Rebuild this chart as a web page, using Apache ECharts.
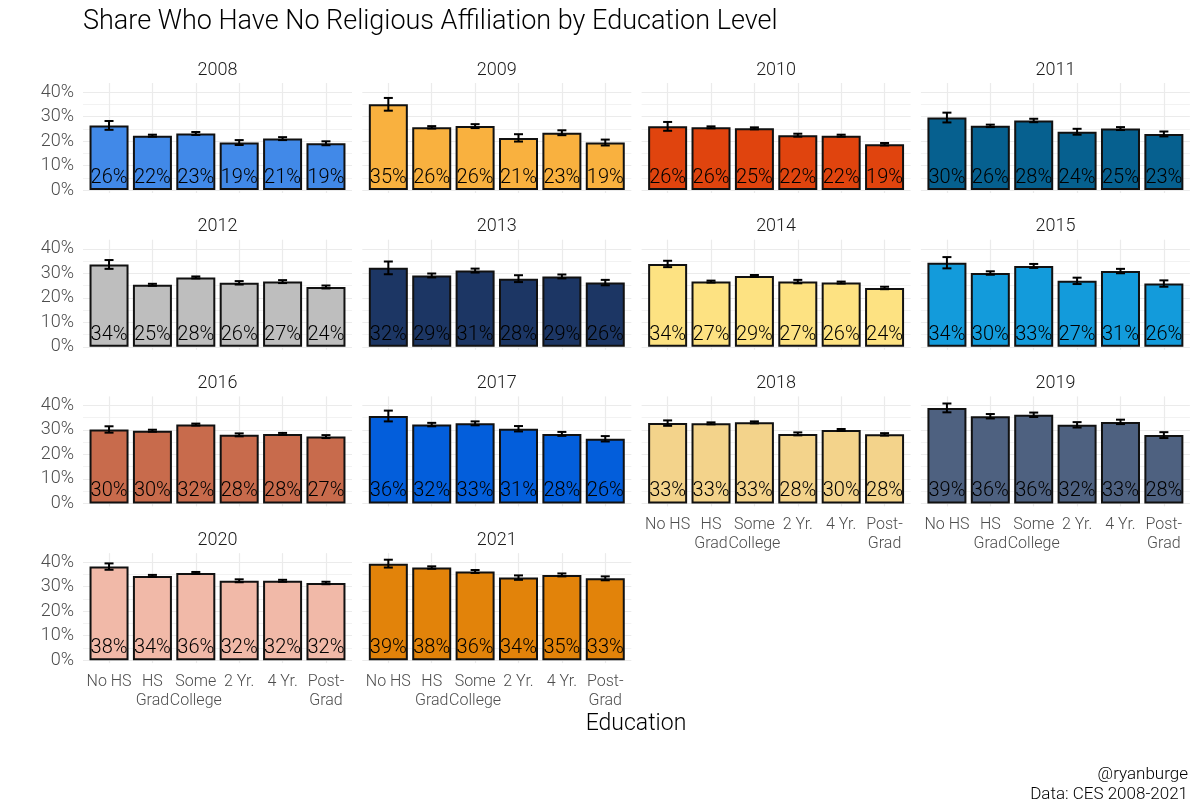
<!DOCTYPE html>
<html>
<head>
<meta charset="utf-8">
<script src="https://cdn.jsdelivr.net/npm/echarts@6/dist/echarts.min.js"></script>
<style>html,body{margin:0;padding:0;background:#fff}#c{width:1200px;height:800px}</style>
</head>
<body>
<div id="c"></div>
<script>
const years = ['2008','2009','2010','2011','2012','2013','2014','2015','2016','2017','2018','2019','2020','2021'];
const categories = ['No HS', 'HS\nGrad', 'Some\nCollege', '2 Yr.', '4 Yr.', 'Post-\nGrad'];
const yTicks = [0, 10, 20, 30, 40];
const yGrid = [0, 5, 10, 15, 20, 25, 30, 35, 40];
const colors = ['#4189E8','#F9B13F','#E0440E','#06608F','#BEBEBE','#1C3664','#FDE282','#139BDB','#C86B4C','#035EDB','#F3D38B','#4E6180','#F1B9A8','#E2830A'];

const v2008 = [26.4, 22.2, 23.1, 19.4, 21.0, 19.1];
const v2009 = [35.0, 25.6, 26.1, 21.3, 23.4, 19.4];
const v2010 = [26.0, 25.6, 25.2, 22.4, 22.2, 18.7];
const v2011 = [29.6, 26.2, 28.4, 23.8, 25.1, 22.9];
const v2012 = [33.6, 25.3, 28.3, 26.1, 26.6, 24.4];
const v2013 = [32.2, 29.1, 31.1, 27.8, 28.7, 26.2];
const v2014 = [33.8, 26.6, 28.9, 26.6, 26.2, 24.0];
const v2015 = [34.3, 30.1, 33.0, 26.9, 30.9, 25.8];
const v2016 = [30.2, 29.7, 32.2, 28.0, 28.4, 27.3];
const v2017 = [35.7, 32.2, 32.7, 30.5, 28.4, 26.4];
const v2018 = [32.8, 32.7, 33.1, 28.4, 30.0, 28.2];
const v2019 = [39.0, 35.6, 36.2, 32.1, 33.3, 27.9];
const v2020 = [38.2, 34.4, 35.6, 32.4, 32.4, 31.5];
const v2021 = [39.4, 37.8, 36.2, 33.7, 34.8, 33.4];

const e2008 = [1.8, 0.4, 0.6, 1.0, 0.6, 0.8];
const e2009 = [2.6, 0.5, 0.8, 1.5, 1.0, 1.2];
const e2010 = [1.8, 0.4, 0.4, 0.6, 0.4, 0.5];
const e2011 = [2.0, 0.5, 0.7, 1.2, 0.6, 1.0];
const e2012 = [1.8, 0.4, 0.4, 0.7, 0.6, 0.6];
const e2013 = [2.6, 0.8, 0.8, 1.4, 0.8, 1.1];
const e2014 = [1.3, 0.4, 0.4, 0.7, 0.4, 0.5];
const e2015 = [2.3, 0.7, 0.8, 1.3, 0.9, 1.3];
const e2016 = [1.3, 0.4, 0.4, 0.6, 0.4, 0.6];
const e2017 = [2.2, 0.7, 0.8, 1.1, 0.8, 1.1];
const e2018 = [1.1, 0.4, 0.4, 0.6, 0.4, 0.5];
const e2019 = [1.8, 0.9, 0.9, 1.1, 0.9, 1.2];
const e2020 = [1.3, 0.4, 0.4, 0.6, 0.4, 0.5];
const e2021 = [1.6, 0.5, 0.6, 0.9, 0.6, 0.8];

const values = [v2008,v2009,v2010,v2011,v2012,v2013,v2014,v2015,v2016,v2017,v2018,v2019,v2020,v2021];
const errors = [e2008,e2009,e2010,e2011,e2012,e2013,e2014,e2015,e2016,e2017,e2018,e2019,e2020,e2021];

const FONT = 'Roboto, "Liberation Sans", sans-serif';
const chart = echarts.init(document.getElementById('c'), null, {renderer: 'canvas'});

const grids = [], xAxes = [], yAxes = [], series = [], graphics = [];
const left0 = 83, colStep = 279.3, pw = 269, top0 = 83, rowStep = 156.7, ph = 110;
years.forEach((yr, i) => {
  const c = i % 4, r = Math.floor(i / 4);
  const left = left0 + c * colStep, top = top0 + r * rowStep;
  grids.push({left: left, top: top, width: pw, height: ph});
  const isBottom = (i + 4) >= years.length;
  xAxes.push({
    type: 'value', gridIndex: i, min: 0.4, max: 6.6,
    axisLine: {show: false},
    axisTick: {show: false, customValues: [1,2,3,4,5,6]},
    axisLabel: {show: isBottom, customValues: [1,2,3,4,5,6], formatter: v => categories[Math.round(v) - 1],
      color: '#4D4D4D', fontSize: 16, fontFamily: FONT, fontWeight: 300, lineHeight: 19, margin: 9},
    splitLine: {show: true, lineStyle: {color: '#EBEBEB', width: 1.2}}
  });
  yAxes.push({
    type: 'value', gridIndex: i, min: -1.2, max: 43.7,
    axisLine: {show: false},
    axisTick: {show: false, customValues: yGrid},
    axisLabel: {show: c === 0, customValues: yTicks, formatter: v => v + '%',
      color: '#4D4D4D', fontSize: 18, fontFamily: FONT, fontWeight: 300, margin: 9},
    splitLine: {show: true, lineStyle: {color: ['#EBEBEB', '#F2F2F2'], width: 1.2}}
  });
  series.push({
    type: 'bar', xAxisIndex: i, yAxisIndex: i, barWidth: 39, z: 2,
    data: values[i].map((v, k) => [k + 1, v]),
    itemStyle: {color: colors[i], borderColor: '#111', borderWidth: 2},
    label: {show: true, position: 'insideBottom', distance: 2,
      formatter: p => Math.round(p.value[1]) + '%',
      color: '#000', fontSize: 20, fontFamily: FONT, fontWeight: 300},
    animation: false
  });
  series.push({
    type: 'custom', xAxisIndex: i, yAxisIndex: i, z: 5,
    data: values[i].map((v, k) => [k + 1, v - errors[i][k], v + errors[i][k]]),
    renderItem: (params, api) => {
      const x = api.value(0);
      const lo = api.coord([x, api.value(1)]);
      const hi = api.coord([x, api.value(2)]);
      const hw = 4.5;
      const st = {stroke: '#000', lineWidth: 2};
      return {type: 'group', children: [
        {type: 'line', shape: {x1: lo[0], y1: lo[1], x2: hi[0], y2: hi[1]}, style: st},
        {type: 'line', shape: {x1: lo[0] - hw, y1: lo[1], x2: lo[0] + hw, y2: lo[1]}, style: st},
        {type: 'line', shape: {x1: hi[0] - hw, y1: hi[1], x2: hi[0] + hw, y2: hi[1]}, style: st}
      ]};
    },
    animation: false
  });
  graphics.push({type: 'text', x: left + pw / 2, y: top - 13,
    style: {text: yr, fill: '#1A1A1A', font: '300 18px ' + FONT, textAlign: 'center', textVerticalAlign: 'middle'}});
});

graphics.push({type: 'text', x: 83, y: 22,
  style: {text: 'Share Who Have No Religious Affiliation by Education Level', fill: '#000', font: '300 27px ' + FONT, textAlign: 'left', textVerticalAlign: 'middle'}});
graphics.push({type: 'text', x: 636, y: 724,
  style: {text: 'Education', fill: '#000', font: '300 23px ' + FONT, textAlign: 'center', textVerticalAlign: 'middle'}});
graphics.push({type: 'text', x: 1188, y: 775,
  style: {text: '@ryanburge', fill: '#000', font: '300 17px ' + FONT, textAlign: 'right', textVerticalAlign: 'middle'}});
graphics.push({type: 'text', x: 1188, y: 795,
  style: {text: 'Data: CES 2008-2021', fill: '#000', font: '300 17px ' + FONT, textAlign: 'right', textVerticalAlign: 'middle'}});

chart.setOption({
  backgroundColor: '#fff',
  animation: false,
  grid: grids, xAxis: xAxes, yAxis: yAxes, series: series,
  graphic: {elements: graphics}
});
</script>
</body>
</html>
